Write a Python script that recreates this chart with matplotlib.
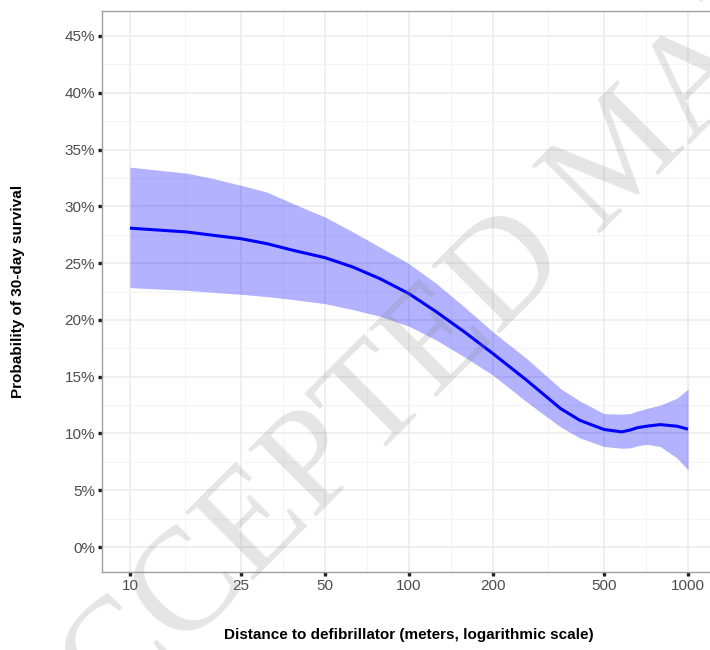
import numpy as np
import matplotlib
matplotlib.use("Agg")
import matplotlib.pyplot as plt
from matplotlib.ticker import FixedLocator, FuncFormatter, NullFormatter

# ---- data ----
distance = [10, 16, 20, 25, 31, 38.5, 50, 63, 78.7, 100, 125.5, 158, 200, 264, 349,
            410, 500, 578, 620, 657, 711, 795, 912, 1000]
fit = [0.2808, 0.2774, 0.2744, 0.2715, 0.2671, 0.2612, 0.2548, 0.2465, 0.2363, 0.2231,
       0.2070, 0.1894, 0.1703, 0.1469, 0.1220, 0.1115, 0.1035, 0.1014, 0.1030, 0.1050,
       0.1064, 0.1078, 0.1064, 0.1038]
lower = [0.2284, 0.2260, 0.2243, 0.2225, 0.2205, 0.2179, 0.2143, 0.2090, 0.2032, 0.1944,
         0.1821, 0.1674, 0.1513, 0.1278, 0.1058, 0.0960, 0.0885, 0.0870, 0.0873, 0.0890,
         0.0905, 0.0885, 0.0785, 0.0680]
upper = [0.3345, 0.3292, 0.3243, 0.3185, 0.3125, 0.3023, 0.2906, 0.2774, 0.2641, 0.2495,
         0.2319, 0.2114, 0.1894, 0.1660, 0.1396, 0.1285, 0.1175, 0.1170, 0.1175, 0.1196,
         0.1220, 0.1250, 0.1310, 0.1390]

x_ticks = [10, 25, 50, 100, 200, 500, 1000]
x_minor = [15.81, 35.36, 70.71, 141.4, 316.2, 707.1]
y_ticks = [0.0, 0.05, 0.10, 0.15, 0.20, 0.25, 0.30, 0.35, 0.40, 0.45]
y_minor = [0.025, 0.075, 0.125, 0.175, 0.225, 0.275, 0.325, 0.375, 0.425]

x_label = "Distance to defibrillator (meters, logarithmic scale)"
y_label = "Probability of 30-day survival"
watermark = "ACCEPTED MANUSCRIPT"

plt.rcParams['font.family'] = ['Liberation Sans', 'DejaVu Sans']

W, H = 710, 650
fig = plt.figure(figsize=(W / 100, H / 100), dpi=100)
left, right, top, bottom = 102, 712, 11, 572
ax = fig.add_axes([left / W, (H - bottom) / H, (right - left) / W, (bottom - top) / H])

ax.set_xscale('log')
ax.set_xlim(7.94, 1219)
ax.set_ylim(-0.022, 0.472)

ax.fill_between(distance, lower, upper, color='blue', alpha=0.3, linewidth=0, zorder=2)
ax.plot(distance, fit, color='blue', lw=2.2, zorder=3, solid_capstyle='butt',
        solid_joinstyle='round')

ax.xaxis.set_major_locator(FixedLocator(x_ticks))
ax.xaxis.set_minor_locator(FixedLocator(x_minor))
ax.xaxis.set_major_formatter(FuncFormatter(lambda v, p: f"{v:g}"))
ax.xaxis.set_minor_formatter(NullFormatter())
ax.yaxis.set_major_locator(FixedLocator(y_ticks))
ax.yaxis.set_minor_locator(FixedLocator(y_minor))
ax.yaxis.set_major_formatter(FuncFormatter(lambda v, p: f"{v*100:.0f}%"))

ax.grid(which='major', color='#EBEBEB', lw=1.1, zorder=0)
ax.grid(which='minor', color='#F4F4F4', lw=0.8, zorder=0)
ax.set_axisbelow(True)

ax.tick_params(which='major', length=3, width=2.4, color='#222222',
               labelcolor='#4D4D4D', labelsize=11, pad=2)
ax.tick_params(which='minor', length=0)

for s in ax.spines.values():
    s.set_color('#A0A0A0')
    s.set_linewidth(1.0)

fig.text(409 / W, 1 - 635 / H, x_label, ha='center', va='center',
         fontsize=11, fontweight='bold', color='black')
fig.text(18 / W, 1 - 291 / H, y_label, ha='center', va='center', rotation=90,
         fontsize=11, fontweight='bold', color='black')

fig.text(625 / W, 1 - 158 / H, watermark, ha='center', va='center', rotation=45,
         rotation_mode='anchor', fontsize=105, family='Liberation Serif',
         color='#888888', alpha=0.22, zorder=10)

fig.savefig('out.png', dpi=100)
